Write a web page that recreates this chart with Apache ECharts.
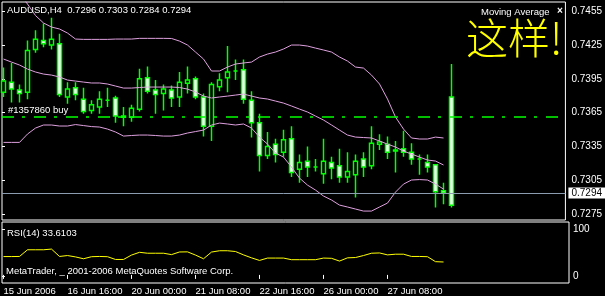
<!DOCTYPE html>
<html><head><meta charset="utf-8">
<script src="https://cdn.jsdelivr.net/npm/echarts@6/dist/echarts.min.js"></script>
<style>html,body{margin:0;padding:0;background:#000;}#c{width:605px;height:296px;}</style>
</head><body><div id="c"></div>
<script>
const symbolName = 'AUDUSD,H4';
const timeLabels = ['15 Jun 2006','16 Jun 16:00','20 Jun 00:00','21 Jun 08:00','22 Jun 16:00','26 Jun 00:00','27 Jun 08:00'];
const opens = [0.7383,0.7392,0.7385,0.7383,0.7421,0.7429,0.7425,0.7426,0.7379,0.7387, 0.7377,0.7367,0.7370,0.7376,0.7378,0.7361,0.7361,0.7368,0.7396,0.7385, 0.7382,0.7385,0.7379,0.7391,0.7395,0.7379,0.7353,0.7388,0.7396,0.7402, 0.7403,0.7376,0.7356,0.7327,0.7337,0.7330,0.7342,0.7315,0.7322,0.7317, 0.7311,0.7321,0.7318,0.7308,0.7310,0.7324,0.7318,0.7337,0.7337,0.7331, 0.7333,0.7330,0.7324,0.7321,0.7319,0.7296,0.7379];
const closes = [0.7393,0.7386,0.7382,0.7420,0.7430,0.7426,0.7430,0.7381,0.7386,0.7381, 0.7366,0.7372,0.7377,0.7376,0.7362,0.7362,0.7369,0.7395,0.7384,0.7381, 0.7386,0.7378,0.7392,0.7394,0.7379,0.7353,0.7390,0.7394,0.7401,0.7402, 0.7377,0.7356,0.7327,0.7335,0.7328,0.7341,0.7312,0.7321,0.7317,0.7317, 0.7322,0.7316,0.7308,0.7313,0.7322,0.7317,0.7338,0.7339,0.7330,0.7332, 0.7330,0.7324,0.7324,0.7317,0.7295,0.7294,0.7283];
const lows = [0.7379,0.7374,0.7374,0.7377,0.7418,0.7423,0.7421,0.7379,0.7373,0.7376, 0.7364,0.7364,0.7364,0.7370,0.7356,0.7353,0.7357,0.7366,0.7382,0.7364, 0.7367,0.7370,0.7370,0.7382,0.7377,0.7344,0.7340,0.7384,0.7383,0.7394, 0.7373,0.7343,0.7313,0.7324,0.7321,0.7326,0.7308,0.7303,0.7308,0.7313, 0.7302,0.7306,0.7303,0.7303,0.7290,0.7308,0.7315,0.7332,0.7324,0.7312, 0.7326,0.7319,0.7310,0.7312,0.7281,0.7284,0.7281];
const highs = [0.7405,0.7409,0.7390,0.7429,0.7438,0.7444,0.7449,0.7435,0.7392,0.7392, 0.7387,0.7376,0.7384,0.7387,0.7380,0.7370,0.7372,0.7404,0.7406,0.7394, 0.7390,0.7389,0.7401,0.7406,0.7397,0.7382,0.7392,0.7400,0.7424,0.7412, 0.7412,0.7384,0.7364,0.7348,0.7342,0.7350,0.7353,0.7328,0.7335,0.7324, 0.7342,0.7326,0.7333,0.7330,0.7328,0.7330,0.7353,0.7346,0.7344,0.7340, 0.7349,0.7338,0.7328,0.7328,0.7319,0.7303,0.7408];
const bandUpper = [0.74913,0.74807,0.74709,0.74612,0.7451,0.74444,0.74408,0.74391,0.74355,0.74302, 0.74299,0.74299,0.74299,0.74299,0.74302,0.74302,0.74302,0.74308,0.74308,0.74308, 0.74308,0.74307,0.74284,0.74249,0.74187,0.74125,0.74019,0.74019,0.74054,0.74081, 0.7409,0.74098,0.74143,0.74169,0.74187,0.74214,0.74249,0.74249,0.7424,0.74222, 0.74205,0.74187,0.74143,0.74107,0.74054,0.74045,0.73983,0.73904,0.73771,0.73611, 0.73505,0.73426,0.73417,0.73417,0.73434,0.73426];
const bandMiddle = [0.74125,0.74098,0.74072,0.74036,0.7401,0.73992,0.73983,0.73966,0.73939,0.7393, 0.73921,0.73913,0.73913,0.73904,0.73886,0.73868,0.73868,0.73873,0.73877,0.73877, 0.73877,0.73877,0.73873,0.73859,0.73833,0.73797,0.7378,0.73789,0.73797,0.73806, 0.73815,0.73797,0.7378,0.73771,0.73753,0.73735,0.73709,0.73682,0.73656,0.7362, 0.73585,0.73541,0.73496,0.73452,0.73434,0.7343,0.73426,0.73399,0.73372,0.73346, 0.7331,0.73284,0.73257,0.73231,0.73222,0.73187];
const bandLower = [0.73387,0.73387,0.73387,0.73461,0.73514,0.73541,0.73541,0.73532,0.73532,0.73545, 0.73536,0.73527,0.73523,0.73505,0.73479,0.73443,0.73448,0.73452,0.73452,0.73448, 0.73443,0.73443,0.73452,0.7347,0.73483,0.73496,0.73541,0.73558,0.7355,0.73541, 0.7355,0.73514,0.73434,0.73372,0.73293,0.73257,0.73169,0.73071,0.73009,0.72965, 0.72912,0.72877,0.72832,0.72815,0.72797,0.72779,0.72779,0.72815,0.7285,0.72947, 0.73018,0.73054,0.73058,0.73054,0.73018,0.72974];
const rsi = [39.8,39.8,40,54.5,54.5,54.5,56,40,42,39, 35,39.5,40,39.5,33.5,33.5,43,49,47,47, 47,44,49.7,50,43,35,49.5,52.4,52.4,50.7, 43.4,37,31.4,36.5,36.5,36.5,33,33,33,33, 36.5,36,30,37,37.7,42,47,47.6,43.4,44.9, 44.9,40,40,39.5,28.7,28];
const rsiReading = '33.6103';
const priceTicks = [0.7275,0.7305,0.7335,0.7365,0.7395,0.7425,0.7455];
const rsiTicks = [0, 100];
const buyLevel = 0.7361;
const buyLabel = '#1357860 buy';
const lastBar = 55;

const N = 71;
const priceMin = 0.7270, priceMax = 0.7463;
const rsiMin = -13.2, rsiMax = 114.7;
const FONT = "'Liberation Sans', Arial, sans-serif";
const FS = 9.5;
const cats = Array.from({length: N}, (_, i) => 'b' + i);
const isLabelIdx = (i) => i % 8 === 0 && (i / 8) < timeLabels.length;
const bid = closes[lastBar];
const txt = () => ({color: '#fff', fontSize: FS, fontWeight: 'normal', fontFamily: FONT});

const chart = echarts.init(document.getElementById('c'), null, {renderer: 'canvas'});
chart.setOption({
  backgroundColor: '#000',
  animation: false,
  title: [
    {text: symbolName + '  ' + [opens[lastBar], highs[lastBar], lows[lastBar], closes[lastBar]].map(v => v.toFixed(4)).join(' '), left: 7, top: 5, padding: 0, textStyle: txt()},
    {text: 'Moving Average', left: 481, top: 7, padding: 0, textStyle: txt()},
    {text: '×', left: 557, top: 6, padding: 0, textStyle: {color: '#fff', fontSize: 10, fontWeight: 'bold', fontFamily: FONT}},
    {text: 'RSI(14) ' + rsiReading, left: 7, top: 228, padding: 0, textStyle: txt()},
    {text: 'MetaTrader, _ 2001-2006 MetaQuotes Software Corp.', left: 6, top: 266, padding: 0, textStyle: txt()},
    {text: '这样!', left: 466, top: 17, padding: 0, textStyle: {color: '#ffff00', fontSize: 42, fontWeight: 200, fontFamily: "'Noto Sans CJK SC', sans-serif"}}
  ],
  grid: [
    {left: 2, top: 2, width: 567, height: 218, show: true, borderColor: '#fff', borderWidth: 1, backgroundColor: 'transparent'},
    {left: 3.5, top: 2, width: 8 * (N - 1), height: 218},
    {left: 2, top: 222, width: 567, height: 61, show: true, borderColor: '#fff', borderWidth: 1, backgroundColor: 'transparent'},
    {left: 3.5, top: 222, width: 8 * (N - 1), height: 61}
  ],
  xAxis: [
    {gridIndex: 0, type: 'value', min: 0, max: 1, show: false},
    {gridIndex: 1, type: 'category', data: cats, boundaryGap: false, show: false},
    {gridIndex: 2, type: 'value', min: 0, max: 1, show: false},
    {gridIndex: 3, type: 'category', data: cats, boundaryGap: false,
      axisLine: {show: false},
      axisTick: {show: true, interval: (i) => isLabelIdx(i), length: 4, lineStyle: {color: '#fff'}},
      axisLabel: {interval: (i) => isLabelIdx(i), formatter: (v, i) => isLabelIdx(i) ? timeLabels[i / 8] : '', color: '#fff', align: 'left', margin: 5, fontSize: FS, fontFamily: FONT},
      splitLine: {show: false}}
  ],
  yAxis: [
    {gridIndex: 0, type: 'value', position: 'right', min: priceMin, max: priceMax, splitLine: {show: false},
      axisLine: {show: false},
      axisTick: {show: true, customValues: priceTicks, length: 3, lineStyle: {color: '#fff'}},
      axisLabel: {customValues: priceTicks, formatter: v => v.toFixed(4), color: '#fff', margin: 6, fontSize: 10, fontFamily: FONT}},
    {gridIndex: 1, type: 'value', min: priceMin, max: priceMax, show: false, splitLine: {show: false}},
    {gridIndex: 2, type: 'value', position: 'right', min: rsiMin, max: rsiMax, splitLine: {show: false},
      axisLine: {show: false},
      axisTick: {show: true, customValues: rsiTicks, length: 3, lineStyle: {color: '#fff'}},
      axisLabel: {customValues: rsiTicks, color: '#fff', margin: 4, fontSize: 10, fontFamily: FONT}},
    {gridIndex: 3, type: 'value', min: rsiMin, max: rsiMax, show: false, splitLine: {show: false}}
  ],
  series: [
    {type: 'line', xAxisIndex: 0, yAxisIndex: 0, data: [], silent: true,
      markLine: {silent: true, symbol: 'none', animation: false, precision: 4,
        data: [
          {yAxis: buyLevel, lineStyle: {color: '#00ff00', type: [12, 8, 3, 9], width: 1.5},
            label: {show: true, position: 'insideStartTop', formatter: buyLabel, color: '#fff', fontSize: FS, fontFamily: FONT, distance: [6, 2]}},
          {yAxis: bid, lineStyle: {color: '#8b9bb0', type: 'solid', width: 1},
            label: {show: true, position: 'end', formatter: bid.toFixed(4), color: '#000', backgroundColor: '#fff', padding: [1, 3, 0, 3], distance: 3, fontSize: 10, fontFamily: FONT}}
        ]}},
    {type: 'candlestick', xAxisIndex: 1, yAxisIndex: 1, z: 3, barWidth: 5,
      data: opens.map((o, i) => [o, closes[i], lows[i], highs[i]]),
      itemStyle: {color: '#000', color0: '#fff', borderColor: '#00ff00', borderColor0: '#00ff00', borderColorDoji: '#00ff00', borderWidth: 1.5}},
    {type: 'line', xAxisIndex: 1, yAxisIndex: 1, z: 4, data: bandUpper, showSymbol: false, lineStyle: {color: '#dda0dd', width: 1}, silent: true},
    {type: 'line', xAxisIndex: 1, yAxisIndex: 1, z: 4, data: bandMiddle, showSymbol: false, lineStyle: {color: '#dda0dd', width: 1}, silent: true},
    {type: 'line', xAxisIndex: 1, yAxisIndex: 1, z: 4, data: bandLower, showSymbol: false, lineStyle: {color: '#dda0dd', width: 1}, silent: true},
    {type: 'line', xAxisIndex: 3, yAxisIndex: 3, data: rsi, showSymbol: false, lineStyle: {color: '#ffff00', width: 1}, silent: true}
  ]
});
</script></body></html>
